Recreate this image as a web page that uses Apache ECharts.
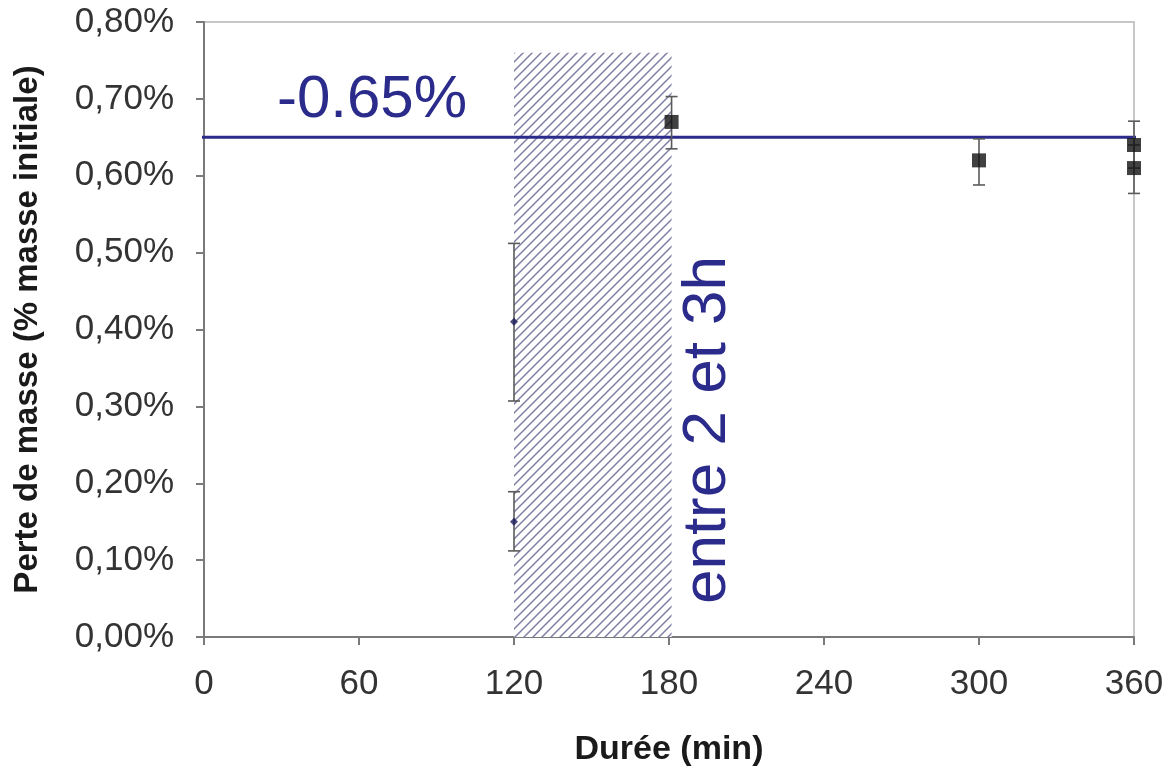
<!DOCTYPE html>
<html>
<head>
<meta charset="utf-8">
<script src="https://cdn.jsdelivr.net/npm/echarts@6/dist/echarts.min.js"></script>
<style>
  html, body { margin: 0; padding: 0; background: #fff; }
  #chartmain { width: 1174px; height: 772px; }
</style>
</head>
<body>
<div id="chartmain"></div>
<script>
// durée (min), perte (%), bas, haut
var pointsDiamond = [
	[120, 0.41, 0.307, 0.512],
	[120, 0.15, 0.112, 0.189]
];
var pointsSquare = [
	[181, 0.67, 0.635, 0.703],
	[300, 0.62, 0.588, 0.648],
	[360, 0.64, 0.610, 0.671],
	[360, 0.61, 0.577, 0.640]
];
var refLevel = 0.65;
var refLineX = [-15.5, 373];
var hatchRange = [120, 181, 0, 0.76];
var xTicks = [0, 60, 120, 180, 240, 300, 360];
var yTicks = [0, 0.1, 0.2, 0.3, 0.4, 0.5, 0.6, 0.7, 0.8];

var navy = '#2b2b8c';
var font = 'Liberation Sans, Arial, sans-serif';

// motif hachuré
var tile = document.createElement('canvas');
tile.width = 9; tile.height = 9;
var ctx = tile.getContext('2d');
ctx.fillStyle = '#ffffff';
ctx.fillRect(0, 0, 9, 9);
ctx.strokeStyle = 'rgba(105,105,150,0.85)';
ctx.lineWidth = 1.5;
ctx.beginPath();
ctx.moveTo(-1, 10); ctx.lineTo(10, -1);
ctx.moveTo(-2, 2); ctx.lineTo(2, -2);
ctx.moveTo(7, 11); ctx.lineTo(11, 7);
ctx.stroke();

function errorBars(params, api) {
	var p = api.coord([api.value(0), api.value(2)]);
	var q = api.coord([api.value(0), api.value(3)]);
	var c = 6;
	var st = { stroke: '#5a5a5a', lineWidth: 1.6 };
	return {
		type: 'group',
		children: [
			{ type: 'line', shape: { x1: p[0], y1: p[1], x2: q[0], y2: q[1] }, style: st },
			{ type: 'line', shape: { x1: p[0] - c, y1: p[1], x2: p[0] + c, y2: p[1] }, style: st },
			{ type: 'line', shape: { x1: q[0] - c, y1: q[1], x2: q[0] + c, y2: q[1] }, style: st }
		]
	};
}

var option = {
	backgroundColor: '#ffffff',
	animation: false,
	grid: {
		left: 204, right: 40, top: 22, bottom: 135,
		outerBoundsMode: 'none',
		containLabel: false,
		show: true, borderColor: '#b5b5b5', borderWidth: 1.5
	},
	xAxis: {
		type: 'value', min: 0, max: 360, interval: 60,
		name: 'Durée (min)', nameLocation: 'middle', nameGap: 96,
		nameTextStyle: { fontFamily: font, fontSize: 34, fontWeight: 'bold', color: '#1a1a1a' },
		axisLine: { show: true, lineStyle: { color: '#7a7a7a', width: 2 } },
		axisTick: { show: true, length: 8, lineStyle: { color: '#7a7a7a', width: 2 } },
		axisLabel: { margin: 30, fontFamily: font, fontSize: 35, color: '#333',
			formatter: function (v) { return xTicks.indexOf(v) >= 0 ? String(v) : ''; } },
		splitLine: { show: false }
	},
	yAxis: {
		type: 'value', min: 0, max: 0.8, interval: 0.1,
		name: 'Perte de masse (% masse initiale)', nameLocation: 'middle', nameGap: 160,
		nameTextStyle: { fontFamily: font, fontSize: 33, fontWeight: 'bold', color: '#1a1a1a' },
		axisLine: { show: true, lineStyle: { color: '#7a7a7a', width: 2 } },
		axisTick: { show: true, length: 8, lineStyle: { color: '#7a7a7a', width: 2 } },
		axisLabel: { margin: 30, fontFamily: font, fontSize: 35, color: '#333',
			formatter: function (v) { return v.toFixed(2).replace('.', ',') + '%'; } },
		splitLine: { show: false }
	},
	series: [
		{
			type: 'custom',
			z: 1,
			clip: false,
			data: [hatchRange],
			renderItem: function (params, api) {
				var a = api.coord([api.value(0), api.value(3)]);
				var b = api.coord([api.value(1), api.value(2)]);
				return {
					type: 'rect',
					shape: { x: a[0], y: a[1], width: b[0] - a[0], height: b[1] - a[1] },
					style: { fill: { image: tile, repeat: 'repeat' } }
				};
			}
		},
		{
			type: 'line',
			z: 3,
			clip: false,
			symbol: 'none',
			data: [[refLineX[0], refLevel], [refLineX[1], refLevel]],
			lineStyle: { color: navy, width: 3 }
		},
		{
			type: 'custom',
			z: 4,
			clip: false,
			data: pointsDiamond.concat(pointsSquare),
			renderItem: errorBars
		},
		{
			type: 'scatter',
			z: 5,
			clip: false,
			symbol: 'diamond',
			symbolSize: 8,
			itemStyle: { color: '#1a1a5e' },
			data: pointsDiamond.map(function (d) { return [d[0], d[1]]; })
		},
		{
			type: 'scatter',
			z: 5,
			clip: false,
			symbol: 'rect',
			symbolSize: 14,
			itemStyle: { color: '#111' },
			data: pointsSquare.map(function (d) { return [d[0], d[1]]; })
		}
	],
	graphic: [
		{
			type: 'text', x: 372, y: 100, z: 10,
			style: { text: '-0.65%', fill: navy, fontFamily: font, fontSize: 60,
				align: 'center', verticalAlign: 'middle' }
		},
		{
			type: 'text', x: 708, y: 430, rotation: Math.PI / 2, z: 10,
			style: { text: 'entre 2 et 3h', fill: navy, fontFamily: font, fontSize: 62,
				align: 'center', verticalAlign: 'middle' }
		}
	]
};

var myChart = echarts.init(document.getElementById('chartmain'));
myChart.setOption(option);
</script>
</body>
</html>
